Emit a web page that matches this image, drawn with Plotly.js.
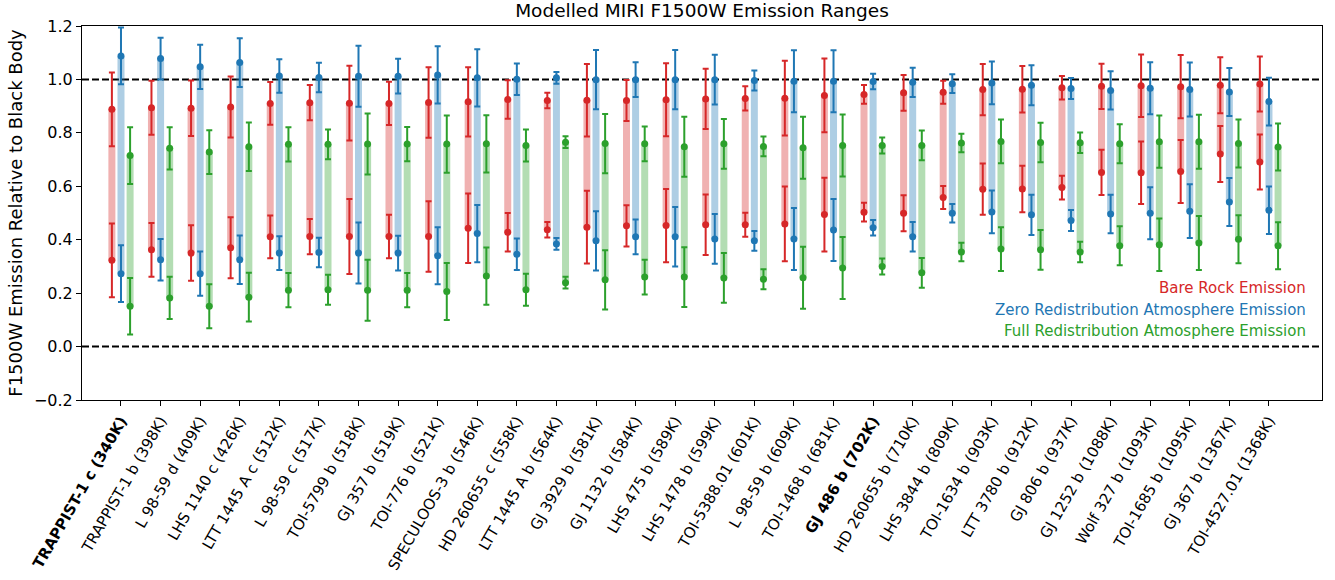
<!DOCTYPE html>
<html>
<head>
<meta charset="utf-8">
<script src="https://cdn.plot.ly/plotly-3.0.1.min.js"></script>
<style>html,body{margin:0;padding:0;background:#fff}#chart{width:1335px;height:580px}</style>
</head>
<body>
<div id="chart"></div>
<script>
const planets = ["TRAPPIST-1 c (340K)", "TRAPPIST-1 b (398K)", "L 98-59 d (409K)", "LHS 1140 c (426K)", "LTT 1445 A c (512K)", "L 98-59 c (517K)", "TOI-5799 b (518K)", "GJ 357 b (519K)", "TOI-776 b (521K)", "SPECULOOS-3 b (546K)", "HD 260655 c (558K)", "LTT 1445 A b (564K)", "GJ 3929 b (581K)", "GJ 1132 b (584K)", "LHS 475 b (589K)", "LHS 1478 b (599K)", "TOI-5388.01 (601K)", "L 98-59 b (609K)", "TOI-1468 b (681K)", "GJ 486 b (702K)", "HD 260655 b (710K)", "LHS 3844 b (809K)", "TOI-1634 b (903K)", "LTT 3780 b (912K)", "GJ 806 b (937K)", "GJ 1252 b (1088K)", "Wolf 327 b (1093K)", "TOI-1685 b (1095K)", "GJ 367 b (1367K)", "TOI-4527.01 (1368K)"];
const boldPlanets = ["TRAPPIST-1 c (340K)", "GJ 486 b (702K)"];

const redHi = [0.888, 0.894, 0.892, 0.897, 0.910, 0.913, 0.911, 0.910, 0.914, 0.916, 0.925, 0.921, 0.922, 0.921, 0.924, 0.927, 0.929, 0.930, 0.940, 0.944, 0.950, 0.952, 0.962, 0.963, 0.969, 0.974, 0.976, 0.973, 0.978, 0.983];
const redLo = [0.323, 0.362, 0.350, 0.370, 0.411, 0.412, 0.412, 0.412, 0.412, 0.443, 0.428, 0.437, 0.447, 0.452, 0.453, 0.456, 0.456, 0.459, 0.494, 0.503, 0.499, 0.558, 0.589, 0.590, 0.595, 0.652, 0.651, 0.655, 0.721, 0.691];
const redErr = [0.138, 0.101, 0.104, 0.114, 0.080, 0.066, 0.140, 0.081, 0.132, 0.130, 0.072, 0.029, 0.136, 0.077, 0.137, 0.113, 0.045, 0.140, 0.138, 0.035, 0.067, 0.043, 0.096, 0.087, 0.044, 0.085, 0.117, 0.118, 0.105, 0.103];

const blueHi = [1.088, 1.078, 1.047, 1.063, 1.013, 1.007, 1.012, 1.012, 1.017, 1.006, 1.001, 1.006, 0.999, 0.999, 0.999, 0.999, 0.996, 0.993, 0.993, 0.992, 0.989, 0.984, 0.987, 0.978, 0.966, 0.959, 0.967, 0.962, 0.953, 0.917];
const blueLo = [0.273, 0.325, 0.273, 0.325, 0.350, 0.352, 0.350, 0.350, 0.340, 0.423, 0.346, 0.384, 0.396, 0.411, 0.411, 0.403, 0.396, 0.403, 0.436, 0.445, 0.411, 0.499, 0.504, 0.493, 0.472, 0.496, 0.499, 0.507, 0.541, 0.510];
const blueErr = [0.106, 0.078, 0.083, 0.091, 0.063, 0.055, 0.114, 0.065, 0.107, 0.107, 0.059, 0.022, 0.111, 0.065, 0.111, 0.093, 0.037, 0.116, 0.116, 0.029, 0.055, 0.035, 0.080, 0.075, 0.039, 0.072, 0.097, 0.101, 0.090, 0.089];

const greenHi = [0.715, 0.742, 0.728, 0.748, 0.757, 0.757, 0.758, 0.758, 0.758, 0.759, 0.753, 0.765, 0.760, 0.759, 0.748, 0.759, 0.749, 0.744, 0.753, 0.753, 0.753, 0.762, 0.768, 0.764, 0.763, 0.759, 0.767, 0.767, 0.760, 0.747];
const greenLo = [0.151, 0.182, 0.151, 0.185, 0.211, 0.213, 0.211, 0.211, 0.206, 0.264, 0.213, 0.239, 0.250, 0.260, 0.260, 0.257, 0.252, 0.258, 0.294, 0.300, 0.276, 0.354, 0.365, 0.362, 0.354, 0.377, 0.381, 0.388, 0.402, 0.377];
const greenErr = [0.106, 0.079, 0.082, 0.091, 0.064, 0.056, 0.114, 0.064, 0.107, 0.107, 0.060, 0.022, 0.111, 0.065, 0.112, 0.093, 0.037, 0.116, 0.116, 0.030, 0.056, 0.035, 0.082, 0.074, 0.038, 0.073, 0.098, 0.101, 0.090, 0.088];

const seriesNames = ["Bare Rock Emission", "Zero Redistribution Atmosphere Emission", "Full Redistribution Atmosphere Emission"];
const FONT = "DejaVu Sans, Verdana, sans-serif";

const groups = [
  {name: seriesNames[0], hi: redHi, lo: redLo, err: redErr, color: "#d62728", light: "rgba(214,39,40,0.36)", off: -0.23},
  {name: seriesNames[1], hi: blueHi, lo: blueLo, err: blueErr, color: "#1f77b4", light: "rgba(31,119,180,0.36)", off: 0},
  {name: seriesNames[2], hi: greenHi, lo: greenLo, err: greenErr, color: "#2ca02c", light: "rgba(44,160,44,0.36)", off: 0.23}
];

const idx = planets.map((_, i) => i);
const traces = [];
// range bars
groups.forEach(g => {
  const xs = [], ys = [];
  idx.forEach(i => { xs.push(i + g.off, i + g.off, null); ys.push(g.lo[i], g.hi[i], null); });
  traces.push({type: "scatter", mode: "lines", x: xs, y: ys, line: {color: g.light, width: 7}, hoverinfo: "skip", showlegend: false});
});
// points with error bars
groups.forEach(g => {
  const xs = idx.map(i => i + g.off).concat(idx.map(i => i + g.off));
  const ys = g.hi.concat(g.lo);
  const es = g.err.concat(g.err);
  traces.push({type: "scatter", mode: "markers", name: g.name, x: xs, y: ys,
    marker: {color: g.color, size: 7},
    error_y: {type: "data", array: es, visible: true, color: g.color, thickness: 2, width: 3},
    showlegend: false});
});

const ticktext = planets.map(p => boldPlanets.includes(p) ? "<b>" + p + "</b>" : p);

const annotations = groups.map((g, k) => ({
  xref: "paper", yref: "paper", x: 0.9887, y: [0.2995, 0.2406, 0.1845][k],
  xanchor: "right", yanchor: "middle", showarrow: false, text: g.name,
  font: {family: FONT, size: 15, color: g.color}
}));

const layout = {
  width: 1335, height: 580,
  margin: {l: 82, r: 13, t: 26, b: 180},
  paper_bgcolor: "#fff", plot_bgcolor: "#fff",
  font: {family: FONT, size: 16, color: "#000"},
  showlegend: false,
  title: {text: "Modelled MIRI F1500W Emission Ranges", x: 0.5, xref: "paper", xanchor: "center", y: 0.981, yanchor: "middle", font: {family: FONT, size: 18.5, color: "#000"}},
  xaxis: {range: [-0.985, 30.34], tickmode: "array", tickvals: idx, ticktext: ticktext, tickangle: -60,
    ticks: "outside", ticklen: 5, tickwidth: 1, tickcolor: "#000",
    showline: true, mirror: true, linecolor: "#000", linewidth: 1, showgrid: false, zeroline: false,
    tickfont: {family: FONT, size: 15, color: "#000"}},
  yaxis: {range: [-0.2, 1.2], tickmode: "linear", tick0: -0.2, dtick: 0.2, tickformat: ".1f",
    ticks: "outside", ticklen: 5, tickwidth: 1, tickcolor: "#000",
    showline: true, mirror: true, linecolor: "#000", linewidth: 1, showgrid: false, zeroline: false,
    tickfont: {family: FONT, size: 16, color: "#000"},
    title: {text: "F1500W Emission Relative to Black Body", font: {family: FONT, size: 18, color: "#000"}, standoff: 6}},
  shapes: [1, 0].map(v => ({type: "line", xref: "paper", x0: 0, x1: 1, yref: "y", y0: v, y1: v, layer: "below",
    line: {color: "#000", width: 2, dash: "7px,3px"}})),
  annotations: annotations
};

Plotly.newPlot("chart", traces, layout, {displayModeBar: false, staticPlot: true});
</script>
</body>
</html>
